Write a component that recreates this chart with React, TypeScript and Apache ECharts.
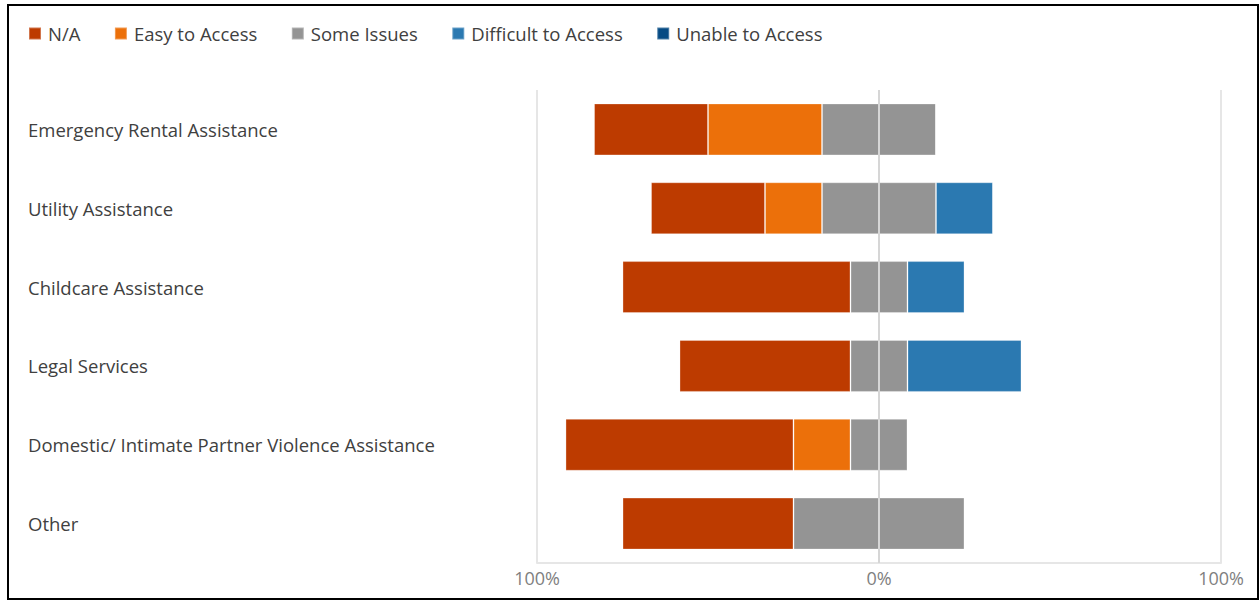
import React, { useEffect, useRef } from "react";
import * as echarts from "echarts";

const categories = [
  "Emergency Rental Assistance",
  "Utility Assistance",
  "Childcare Assistance",
  "Legal Services",
  "Domestic/ Intimate Partner Violence Assistance",
  "Other",
];
const naValues = [33.33, 33.33, 66.67, 50, 66.67, 50];
const easyValues = [33.33, 16.67, 0, 0, 16.67, 0];
const someIssuesValues = [33.33, 33.33, 16.67, 16.67, 16.67, 50];
const difficultValues = [0, 16.67, 16.67, 33.33, 0, 0];
const unableValues = [0, 0, 0, 0, 0, 0];
const axisTicks = [-100, 0, 100];

const legendNames = ["N/A", "Easy to Access", "Some Issues", "Difficult to Access", "Unable to Access"];
const colors = {
  na: "#BD3B00",
  easy: "#EC700A",
  some: "#949494",
  difficult: "#2B79B1",
  unable: "#054A83",
};

const FONT = "'Open Sans', 'Noto Sans', sans-serif";

export default function App() {
  const ref = useRef<HTMLDivElement>(null);

  useEffect(() => {
    if (!ref.current) return;
    const chart = echarts.init(ref.current, undefined, { renderer: "svg" });
    const barBase = {
      type: "bar",
      stack: "total",
      barWidth: 52,
      itemStyle: { borderColor: "rgba(255,255,255,0.3)", borderWidth: 1 },
      emphasis: { disabled: true },
    };
    chart.setOption({
      animation: false,
      textStyle: { fontFamily: FONT },
      legend: {
        data: legendNames,
        left: 28,
        top: 24,
        padding: 0,
        icon: "rect",
        itemWidth: 12,
        itemHeight: 12,
        itemGap: 33.5,
        textStyle: { color: "#404040", fontSize: 18.5, fontFamily: FONT, padding: [0, 0, 0, 2] },
      },
      grid: { left: 537, right: 38, top: 90, bottom: 39, containLabel: false },
      xAxis: {
        type: "value",
        min: axisTicks[0],
        max: axisTicks[axisTicks.length - 1],
        interval: 100,
        axisLine: { show: true, lineStyle: { color: "#e6e6e6", width: 2 } },
        axisTick: { show: false },
        splitLine: { show: true, lineStyle: { color: "#e6e6e6", width: 2 } },
        axisLabel: {
          color: "#7f7f7f",
          fontSize: 18,
          fontFamily: FONT,
          margin: 6,
          formatter: (v: number) => Math.abs(v) + "%",
        },
      },
      yAxis: {
        type: "category",
        data: categories,
        inverse: true,
        axisLine: { show: false },
        axisTick: { show: false },
        splitLine: { show: false },
        axisLabel: {
          align: "left",
          margin: 509,
          color: "#404040",
          fontSize: 18.5,
          fontFamily: FONT,
        },
      },
      series: [
        {
          ...barBase,
          name: "Some Issues",
          data: someIssuesValues.map((v) => -v / 2),
          itemStyle: { ...barBase.itemStyle, color: colors.some },
        },
        {
          ...barBase,
          name: "Easy to Access",
          data: easyValues.map((v) => -v),
          itemStyle: { ...barBase.itemStyle, color: colors.easy },
        },
        {
          ...barBase,
          name: "N/A",
          data: naValues.map((v) => -v),
          itemStyle: { ...barBase.itemStyle, color: colors.na },
        },
        {
          ...barBase,
          name: "Some Issues",
          data: someIssuesValues.map((v) => v / 2),
          itemStyle: { ...barBase.itemStyle, color: colors.some },
          markLine: {
            silent: true,
            symbol: "none",
            label: { show: false },
            lineStyle: { color: "#d6d6d6", width: 2, type: "solid" },
            data: [{ xAxis: 0 }],
          },
        },
        {
          ...barBase,
          name: "Difficult to Access",
          data: difficultValues,
          itemStyle: { ...barBase.itemStyle, color: colors.difficult },
        },
        {
          ...barBase,
          name: "Unable to Access",
          data: unableValues,
          itemStyle: { ...barBase.itemStyle, color: colors.unable },
        },
      ],
    });
    return () => chart.dispose();
  }, []);

  return (
    <div style={{ position: "absolute", left: 0, top: 0, width: 1259, height: 602, background: "#fff" }}>
      <div ref={ref} style={{ position: "absolute", left: 0, top: 0, width: 1259, height: 602 }} />
      <div
        style={{
          position: "absolute",
          left: 7,
          top: 4,
          width: 1252,
          height: 596,
          border: "2px solid #000",
          boxSizing: "border-box",
          pointerEvents: "none",
        }}
      />
    </div>
  );
}
